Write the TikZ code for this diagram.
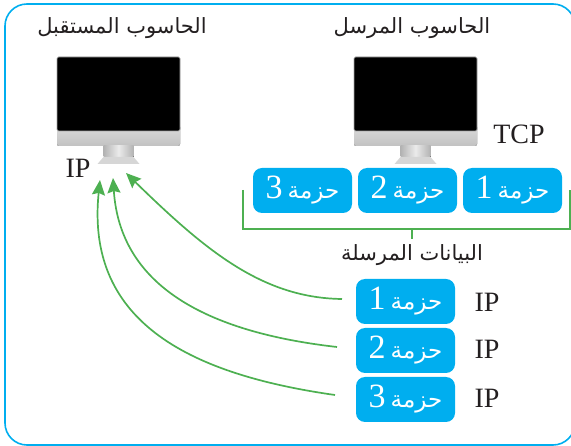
\documentclass[tikz,border=0pt]{standalone}
\usepackage{fontspec}
\setmainfont{Liberation Serif}
\newfontfamily\arabicfont[Script=Arabic]{DejaVu Sans}
\TeXXeTstate=1
\usetikzlibrary{arrows.meta}
\definecolor{framecyan}{HTML}{00AEEF}
\definecolor{linkgreen}{HTML}{4DB051}
\definecolor{inktext}{HTML}{231F20}
\tikzset{
  x=1pt,y=-1pt,
  packet/.style={fill=framecyan,rounded corners=9pt,minimum width=99pt,minimum height=45pt,inner sep=0pt,text=white},
  caption/.style={text=inktext,inner sep=0pt,font=\arabicfont\fontsize{21}{23}\selectfont},
  latin/.style={text=inktext,inner sep=0pt,font=\fontsize{28}{30}\selectfont},
  link/.style={draw=linkgreen,line width=1.7pt},
  flow/.style={link,-{Stealth[length=15pt,width=13pt,inset=2pt]}},
  bezel/.style={fill=black,draw=black!35,line width=.6pt,rounded corners=1.5pt,minimum width=123pt,minimum height=74pt,inner sep=0pt},
}
\newcommand{\pktlabel}[1]{{\fontsize{34}{35}\selectfont #1}\hspace{5pt}{\arabicfont\fontsize{23}{24}\selectfont\beginR حزمة\endR}}
\newcommand{\desktop}[2]{%
  \fill[top color=black!14,bottom color=black!24,rounded corners=2pt] (#1-61.5,125) rectangle (#1+61.5,#2);
  \fill[left color=black!30,right color=black!30,middle color=black!8] (#1-15,146) -- (#1+15,146) -- (#1+15,157) -- (#1-15,157) -- cycle;
  \fill[black!16] (#1-15,157) -- (#1+15,157) -- (#1+21,164) -- (#1-21,164) -- cycle;
}
\begin{document}
\begin{tikzpicture}
\useasboundingbox (0,0) rectangle (571,446);
\draw[framecyan,line width=1.6pt,rounded corners=22pt] (5,4) rectangle (575,445);

% monitors
\desktop{118.5}{146}
\desktop{415.5}{146}
\node[bezel] (recvscreen) at (118.5,94) {};
\node[bezel] (sendscreen) at (415.5,94) {};

% captions
\node[caption] (recvcap) at (122,28) {\beginR الحاسوب المستقبل\endR};
\node[caption] (sendcap) at (412,28) {\beginR الحاسوب المرسل\endR};
\node[caption] (datacap) at (412,255) {\beginR البيانات المرسلة\endR};

% latin labels
\node[latin] (tcp) at (519,134) {TCP};
\node[latin] (recvip) at (78,168) {IP};

% top packets
\node[packet] (top1) at (512.5,190.5) {\pktlabel{1}};
\node[packet] (top2) at (407.5,190.5) {\pktlabel{2}};
\node[packet] (top3) at (302.5,190.5) {\pktlabel{3}};

% bottom packets
\node[packet] (low1) at (405.5,301.5) {\pktlabel{1}};
\node[packet] (low2) at (405.5,350.5) {\pktlabel{2}};
\node[packet] (low3) at (405.5,399.5) {\pktlabel{3}};
\node[latin] (ip1) at (487,302) {IP};
\node[latin] (ip2) at (487,349) {IP};
\node[latin] (ip3) at (487,398) {IP};

% bracket
\coordinate (brl) at (243,190);
\coordinate (brr) at (570,190);
\coordinate (brm) at (412,229);
\coordinate (brs) at (412,239);
\draw[link] (brl) |- (brm) -| (brr);
\draw[link] (brm) -- (brs);

% arrows
\coordinate (tip1) at (126,173);
\coordinate (tip2) at (113,178);
\coordinate (tip3) at (100,180);
\coordinate (from1) at (342,299);
\coordinate (from2) at (337,347);
\coordinate (from3) at (335,395);
\draw[flow] (from1) .. controls (262,298) and (205,250) .. (tip1);
\draw[flow] (from2) .. controls (205,332) and (120,285) .. (tip2);
\draw[flow] (from3) .. controls (195,375) and (85,325) .. (tip3);
\end{tikzpicture}
\end{document}
